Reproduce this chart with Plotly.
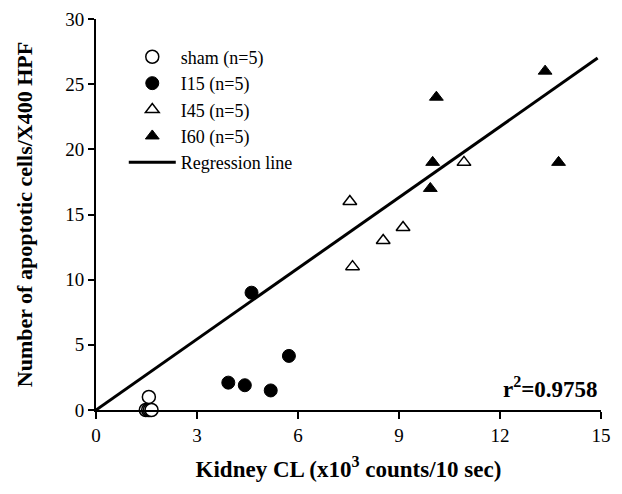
import plotly.graph_objects as go

# Data
sham_x = [1.48, 1.55, 1.60, 1.65, 1.57]
sham_y = [0, 0, 0, 0, 1]
i15_x = [3.93, 4.42, 5.19, 4.62, 5.73]
i15_y = [2.1, 1.9, 1.5, 9.0, 4.15]
i45_x = [7.54, 7.62, 8.53, 9.12, 10.93]
i45_y = [16, 11, 13, 14, 19]
i60_x = [9.93, 10.0, 10.11, 13.34, 13.74]
i60_y = [17, 19, 24, 26, 19]
reg_x = [0, 14.9]
reg_y = [0, 27.0]
x_ticks = [0, 3, 6, 9, 12, 15]
y_ticks = [0, 5, 10, 15, 20, 25, 30]
r2_text = "r<sup>2</sup>=0.9758"

FONT = "Liberation Serif"

fig = go.Figure()
fig.add_trace(go.Scatter(x=sham_x, y=sham_y, mode="markers", name="sham (n=5)",
                         marker=dict(symbol="circle", size=13, color="white",
                                     line=dict(color="black", width=1.5)),
                         cliponaxis=False))
fig.add_trace(go.Scatter(x=i15_x, y=i15_y, mode="markers", name="I15 (n=5)",
                         marker=dict(symbol="circle", size=13, color="black",
                                     line=dict(color="black", width=1)),
                         cliponaxis=False))
fig.add_trace(go.Scatter(x=i45_x, y=i45_y, mode="markers", name="I45 (n=5)",
                         marker=dict(symbol="triangle-up", size=12, color="white",
                                     line=dict(color="black", width=1.5)),
                         cliponaxis=False))
fig.add_trace(go.Scatter(x=i60_x, y=i60_y, mode="markers", name="I60 (n=5)",
                         marker=dict(symbol="triangle-up", size=12, color="black",
                                     line=dict(color="black", width=1)),
                         cliponaxis=False))
fig.add_trace(go.Scatter(x=reg_x, y=reg_y, mode="lines", name="Regression line",
                         line=dict(color="black", width=3)))

fig.add_annotation(x=14.97, y=1.7, xref="x", yref="y", text="<b>" + r2_text + "</b>",
                   showarrow=False, xanchor="right", yanchor="middle",
                   font=dict(family=FONT, size=23, color="black"))

fig.update_layout(
    width=622, height=494,
    margin=dict(l=96, r=21, t=19, b=84),
    paper_bgcolor="white", plot_bgcolor="white",
    font=dict(family=FONT, color="black"),
    showlegend=True,
    legend=dict(x=0.055, y=0.95, xanchor="left", yanchor="top",
                bgcolor="rgba(0,0,0,0)", font=dict(family=FONT, size=18, color="black"),
                tracegroupgap=0, itemwidth=47),
    xaxis=dict(range=[0, 15], tickvals=x_ticks, ticktext=[str(v) for v in x_ticks],
               showgrid=False, zeroline=False, showline=True, linecolor="black", linewidth=2,
               ticks="outside", ticklen=7, tickwidth=2, tickcolor="black", automargin=False,
               tickfont=dict(family=FONT, size=19, color="black"),
               title=dict(text="<b>Kidney CL (x10<sup>3</sup> counts/10 sec)</b>",
                          font=dict(family=FONT, size=23, color="black"), standoff=16)),
    yaxis=dict(range=[0, 30], tickvals=y_ticks, ticktext=[str(v) for v in y_ticks],
               showgrid=False, zeroline=False, showline=True, linecolor="black", linewidth=2,
               ticks="outside", ticklen=6, tickwidth=2, tickcolor="black", automargin=False,
               tickfont=dict(family=FONT, size=19, color="black"),
               title=dict(text="<b>Number of apoptotic cells/X400 HPF</b>",
                          font=dict(family=FONT, size=22, color="black"), standoff=27)),
)

fig.write_html("out.html", config={"displayModeBar": False},
               post_script="document.body.style.margin='0';document.body.style.padding='0';")
